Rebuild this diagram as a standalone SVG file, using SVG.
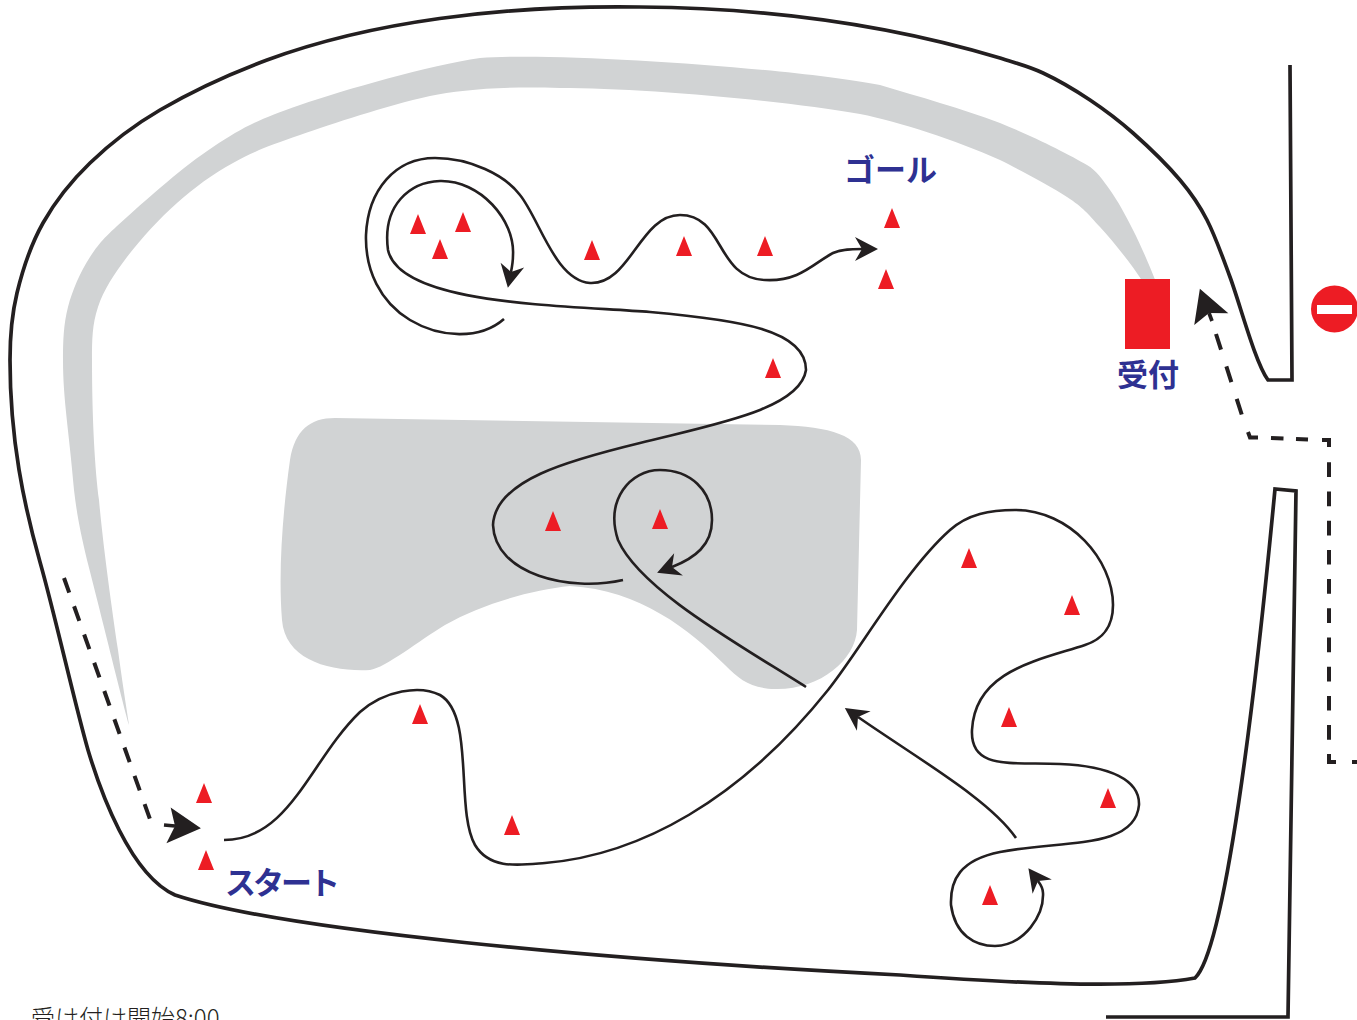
<svg xmlns="http://www.w3.org/2000/svg" xmlns:xlink="http://www.w3.org/1999/xlink" width="1357" height="1020" viewBox="0 0 1357 1020">
<style>
.wall{fill:none;stroke:#231f20;stroke-width:3.7;stroke-linejoin:miter}
.route{fill:none;stroke:#231f20;stroke-width:2.6;stroke-linecap:butt}
.dash{fill:none;stroke:#231f20;stroke-width:4}
.grey{fill:#d1d3d4}
.red{fill:#ed1c24}
.lab{font-family:"Noto Sans CJK JP","Liberation Sans",sans-serif;font-weight:700;font-size:31px;fill:#2e3192}
.note{font-family:"Noto Sans CJK JP","Liberation Sans",sans-serif;font-weight:300;font-size:24px;fill:#231f20}
</style>
<defs>
<path id="t" class="red" d="M0,-20 L8,0 L-8,0Z"/>
<marker id="ah" refX="0" refY="0" markerWidth="10" markerHeight="10" markerUnits="userSpaceOnUse" orient="auto" overflow="visible"><path d="M26,0 L-6,-18 L0,0 L-7,18Z" fill="#231f20"/></marker>
<marker id="ahs" refX="0" refY="0" markerWidth="10" markerHeight="10" markerUnits="userSpaceOnUse" orient="auto" overflow="visible"><path d="M16,0 L-7,-12 L0,0 L-7,12Z" fill="#231f20"/></marker>
</defs>
<g id="road">
<path class="grey" d="M129,725 C122,700 100,610 87,560 C80,530 77,515 74,490 C69,430 63,400 63,360 C63,342 63.500,324 68,307 C72.500,290 80.200,272 90,257 C99.800,242 106.500,235.300 127,217 C147.500,198.700 184.200,165.700 213,147 C241.800,128.300 256,120 300,105 C344,90 430,65 480,58 C560,52 790,68 880,85 C920,97 960,108 1000,123 C1030,135 1068.700,154 1087,165 C1097,171 1102.300,179.200 1110,190 C1117.700,200.800 1125.300,214.700 1133,230 C1140.700,245.300 1149,264 1156,282 L1143,282 C1130,262 1112.700,241 1100,227 C1087.300,213 1083.700,208 1067,197 C1050.300,186 1020,170 1000,160 C955,140 900,122 860,114 C780,100 640,88 560,88 C500,86 460,90 430,96 C385,106 332.800,123.800 300,135 C267.200,146.200 253.500,151.700 233,163 C212.500,174.300 194.700,187.300 177,203 C159.300,218.700 140.200,239.700 127,257 C113.800,274.300 103.800,289.800 98,307 C92.200,324.200 92,340 92,360 C92,420 95,470 99,500 C103,545 112,610 118,650 C122,680 126,705 129,725Z"/>
<path class="grey" d="M335,418 L780,425 C830,427 861,435 861,460 L857,630 C855,660 820,690 775,689 C750,688 740,680 725,665 C690,630 640,590 570,586 C530,590 480,605 445,625 C420,640 385,668 370,670 C330,672 285,660 282,620 C278,570 283,510 290,460 C295,430 310,418 335,418Z"/>
</g>
<g id="walls">
<path class="wall" d="M1290,65 L1292,380 L1268,380 C1255,362 1240,304 1230,277 C1220,250 1215.300,236.200 1207,220 C1198.700,203.800 1192.300,194.500 1180,180 C1167.700,165.500 1148,146.300 1133,133 C1118,119.700 1105,110 1090,100 C1075,90 1058,80 1043,73 C1028,66 1015,63 1000,58 C900,28 780,8 640,7 C500,5 370,22 267,60 C232,73 189.500,92.800 160,110 C130.500,127.200 109.500,144.200 90,163 C70.500,181.800 55.200,201.300 43,223 C30.800,244.700 22.500,270.200 17,293 C11.500,315.800 10,338 10,360 C10,440 24,505 40,562 C55,615 75,705 88,750 C100,790 130,875 175,895 C280,930 600,960 900,975 C1000,982 1130,990 1195,978 C1225,950 1255,700 1275,489 L1296,491 L1288,1017 L1106,1017"/>
</g>
<g id="connectors">
<path class="route" marker-end="url(#ahs)" d="M224,840 C290,840 310,760 360,712 C385,690 420,685 440,695 C475,715 455,810 475,845 C490,870 520,865 545,863 C640,855 740,800 828,690 C860,650 905,570 950,530 C968,514 990,510 1015,510 C1070,510 1113,560 1113,605 C1113,630 1100,640 1085,645 C1040,660 975,670 972,730 C970,770 1010,762 1060,764 C1110,766 1140,780 1139,805 C1135,850 1060,840 1000,852 C960,860 950,880 951,905 C955,935 975,946 995,946 C1025,945 1044,915 1043,893 C1043,888 1041,885 1038,881"/>
<path class="route" marker-end="url(#ahs)" d="M1016,838 C990,800 920,760 858,717"/>
<path class="route" marker-end="url(#ahs)" d="M806,687 C740,645 640,590 618,540 C605,500 630,470 660,470 C690,470 712,490 712,520 C712,545 695,558 672,567"/>
<path class="route" marker-end="url(#ahs)" d="M623,580 C570,592 495,575 493,525 C495,480 570,460 640,443 C710,425 800,410 806,370 C806,330 740,320 650,312 C560,305 400,305 388,250 C382,205 410,182 440,181 C480,180 515,220 513,255 C513,262 512,267 511,272"/>
<path class="route" marker-end="url(#ahs)" d="M504,319 C480,340 440,338 410,320 C380,302 365,270 366,235 C368,190 395,158 435,158 C470,158 505,175 520,195 C540,220 555,280 590,283 C630,285 640,215 680,215 C725,215 715,278 765,280 C800,282 815,262 833,253 C842,249 852,249 862,249"/>
<path class="dash" stroke-dasharray="15.500 14.500" d="M64,578 L151,822"/>
<path class="wall" marker-end="url(#ah)" d="M164,825 L175,826"/>
<path class="dash" stroke-dasharray="16.500 17.500" d="M1216,334 L1247,431"/>
<path class="dash" d="M1248,432 L1250,437.500 L1258,437.500 M1271,438 L1283.500,438.500 M1296,439 L1308,439.500 M1322,440 L1329,440 L1329,447"/>
<path class="dash" stroke-dasharray="14.700 14.500" d="M1329,462.300 L1329,740"/>
<path class="dash" d="M1329,754 L1329,762 L1336,762 M1352,762 L1357,762"/>
<path class="wall" marker-end="url(#ah)" d="M1212,321 L1209,313"/>
</g>
<g id="cones">
<use xlink:href="#t" x="418" y="234"/><use xlink:href="#t" x="463" y="232"/><use xlink:href="#t" x="440" y="259"/>
<use xlink:href="#t" x="592" y="260"/><use xlink:href="#t" x="684" y="256"/><use xlink:href="#t" x="765" y="256"/>
<use xlink:href="#t" x="892" y="228"/><use xlink:href="#t" x="886" y="289"/><use xlink:href="#t" x="773" y="378"/>
<use xlink:href="#t" x="553" y="531"/><use xlink:href="#t" x="660" y="529"/><use xlink:href="#t" x="969" y="568"/>
<use xlink:href="#t" x="1072" y="615"/><use xlink:href="#t" x="1009" y="727"/><use xlink:href="#t" x="1108" y="808"/>
<use xlink:href="#t" x="990" y="905"/><use xlink:href="#t" x="420" y="724"/><use xlink:href="#t" x="512" y="835"/>
<use xlink:href="#t" x="204" y="803"/><use xlink:href="#t" x="206" y="870"/>
</g>
<g id="reception"><rect class="red" x="1125" y="279" width="45" height="70"/><text class="lab" x="1117" y="386">受付</text></g>
<g id="no-entry"><circle class="red" cx="1334.500" cy="309" r="23.500"/><rect x="1317" y="305" width="35" height="9" fill="#fff"/></g>
<g id="goal"><text class="lab" x="844" y="181">ゴール</text></g>
<g id="start"><text class="lab" x="225" y="894" letter-spacing="-3">スタート</text></g>
<text class="note" x="31" y="1027">受け付け開始8:00</text>
</svg>
